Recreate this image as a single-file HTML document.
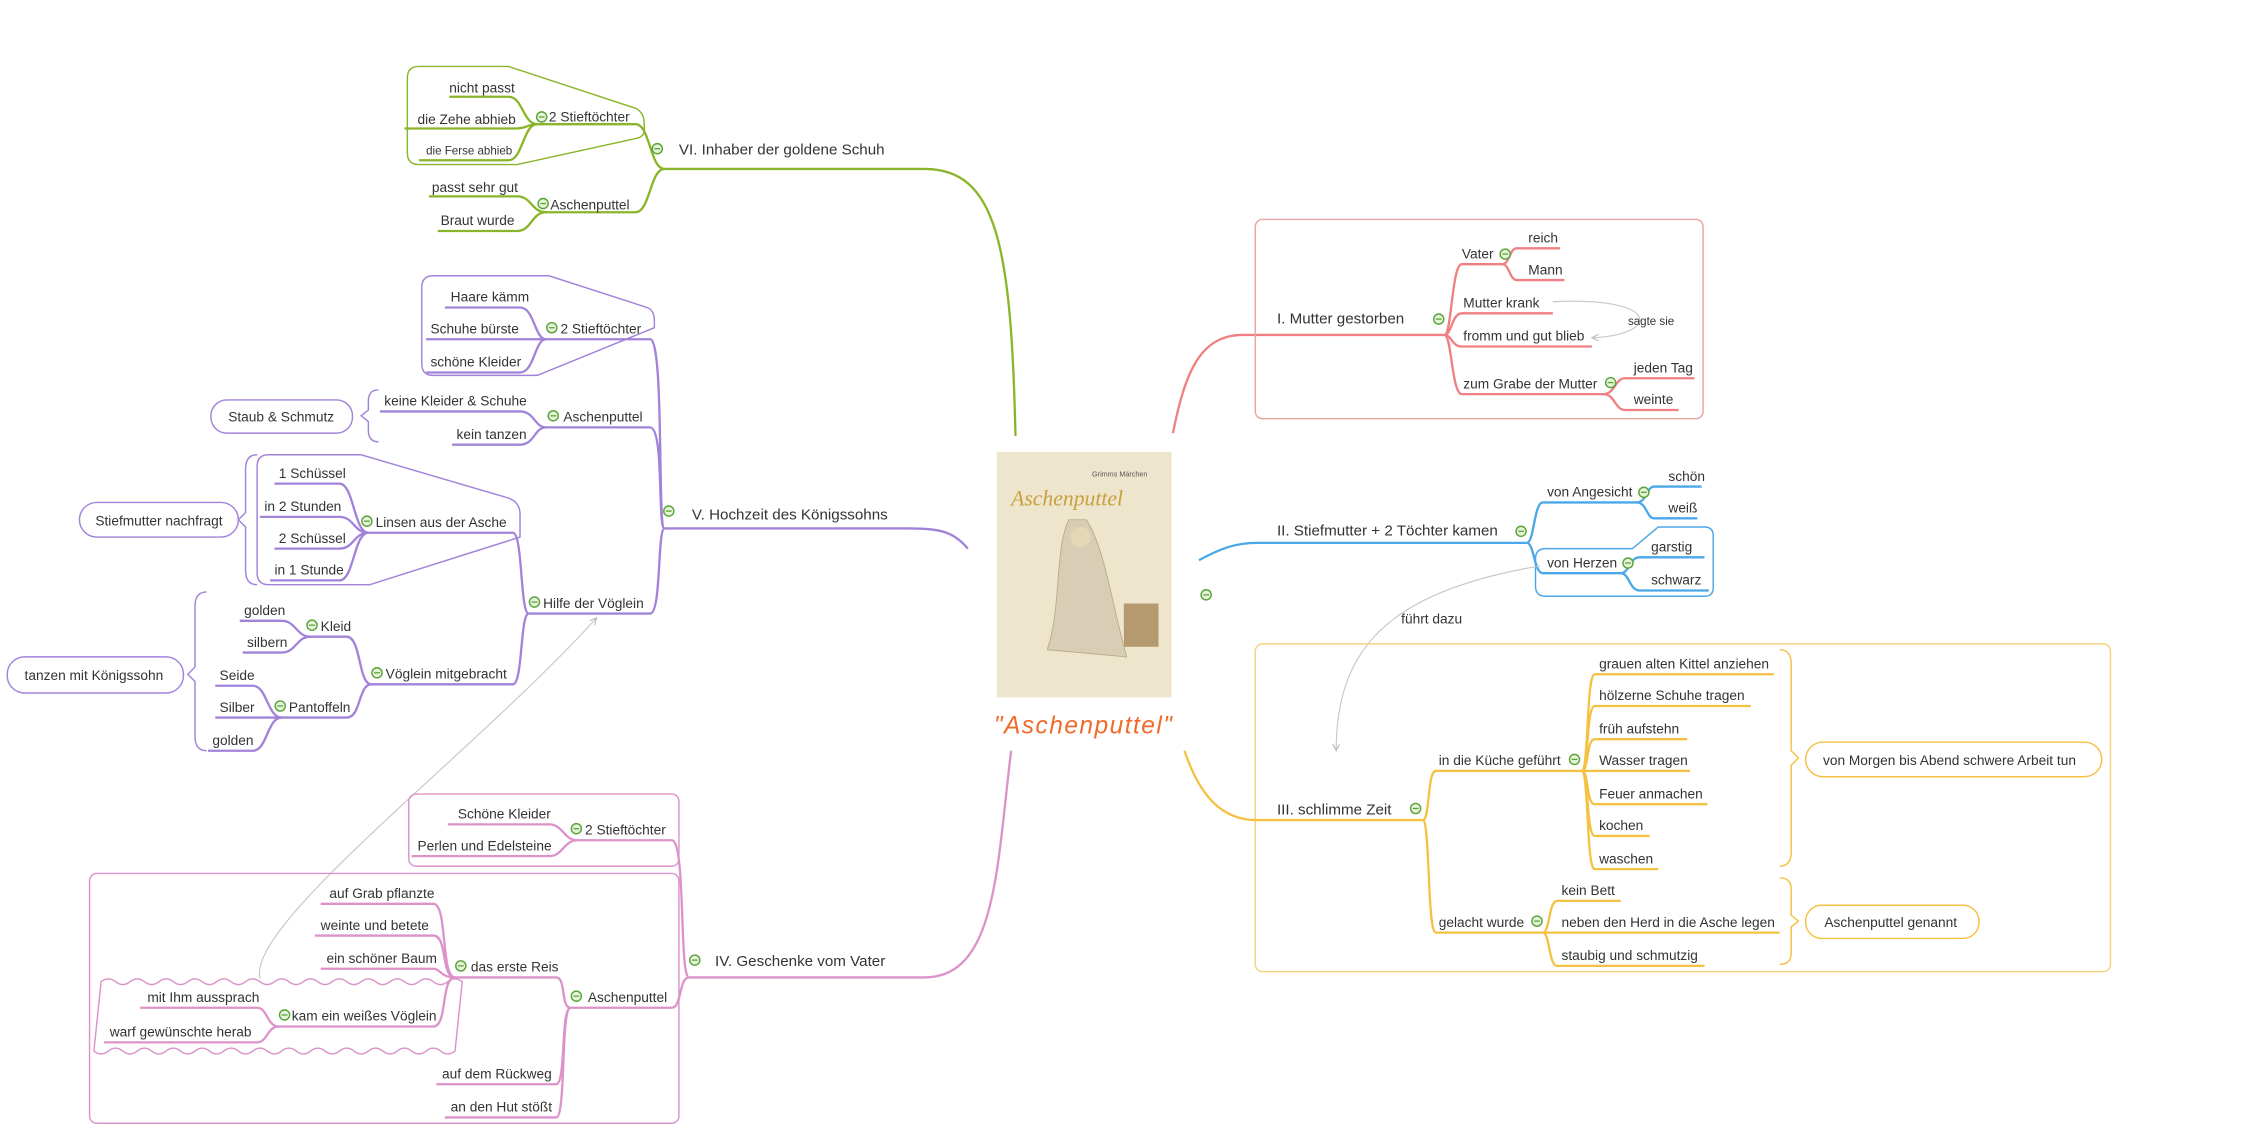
<!DOCTYPE html>
<html><head><meta charset="utf-8"><style>
html,body{margin:0;padding:0;background:#fff;width:2265px;height:1142px;overflow:hidden}
svg{display:block}
text{font-family:"Liberation Sans",sans-serif;font-size:9.5px;fill:#333}
.g{stroke:#8ab52a}.p{stroke:#a283d9}.k{stroke:#dc93c9}.r{stroke:#ef7f80}.b{stroke:#4aa8e8}.y{stroke:#f5c143}
path,line{fill:none;stroke-width:1.6}
.bx{fill:none;stroke-width:1}
.c{fill:#e6f2da;stroke:#5aa43a;stroke-width:1}
</style></head><body>
<svg width="2265" height="1142" viewBox="0 0 1568 791" preserveAspectRatio="none">
<defs><marker id="ar" markerWidth="8" markerHeight="8" refX="6" refY="3" orient="auto"><path d="M0,0 L6,3 L0,6" style="fill:none;stroke:#bbb;stroke-width:1"/></marker>
<g id="m"><circle class="c" cx="0" cy="0" r="3.5"/><line x1="-2" y1="0" x2="2" y2="0" style="stroke:#5aa43a;stroke-width:0.9"/></g></defs>

<!-- center -->
<rect x="690" y="313" width="121" height="170" fill="#eee5cd"/>
<text x="756" y="330" style="font-size:5px;fill:#555">Grimms Märchen</text>
<text x="700" y="350" style="font-family:'Liberation Serif',serif;font-style:italic;font-size:15px;fill:#c8a040">Aschenputtel</text>
<path d="M740 360 C730 380 735 420 725 450 L780 455 C770 420 765 380 752 360 Z" style="fill:#d8ceb6;stroke:#b8a888;stroke-width:0.6"/>
<circle cx="748" cy="372" r="7" fill="#e5d6b5"/>
<rect x="778" y="418" width="24" height="30" fill="#b59a70"/>
<text x="688" y="508" style="font-size:17px;font-style:italic;fill:#f06a2a;letter-spacing:1px">"Aschenputtel"</text>

<!-- ===== VI green ===== -->
<path class="g" d="M703 302 C700 170 690 117 640 117 L460 117"/>
<path class="g" d="M460 117 C450 117 450 86 440 86 L372 86 C362 86 362 67 352 67 L311 67"/>
<path class="g" d="M372 86 C365 86 365 89 357 89 L280 89"/>
<path class="g" d="M372 86 C362 86 362 111 352 111 L290 111"/>
<path class="g" d="M460 117 C450 117 450 147 440 147 L378 147 C368 147 368 136 358 136 L297 136"/>
<path class="g" d="M378 147 C368 147 368 160 358 160 L303 160"/>
<path class="g bx" d="M290 46 L352 46 L440 75 Q446 78 446 86 L446 90 Q446 95 440 96 L358 114 L290 114 Q282 114 282 106 L282 54 Q282 46 290 46 Z"/>
<text x="470" y="107" style="font-size:10.5px">VI.  Inhaber der goldene Schuh</text>
<use href="#m" x="455" y="103"/>
<text x="380" y="84">2 Stieftöchter</text><use href="#m" x="375" y="81"/>
<text x="311" y="64">nicht passt</text>
<text x="289" y="86">die Zehe abhieb</text>
<text x="295" y="107" style="font-size:8px">die Ferse abhieb</text>
<text x="381" y="145">Aschenputtel</text><use href="#m" x="376" y="141"/>
<text x="299" y="133">passt sehr gut</text>
<text x="305" y="156">Braut wurde</text>

<!-- ===== V purple ===== -->
<path class="p" d="M670 380 C660 368 650 366 630 366 L460 366"/>
<path class="p" d="M460 366 C455 366 460 235 450 235 L378 235 C370 235 370 213 360 213 L308 213"/>
<path class="p" d="M378 235 C370 235 370 235 360 235 L295 235"/>
<path class="p" d="M378 235 C370 235 370 258 360 258 L295 258"/>
<path class="p" d="M460 366 C455 366 460 296 450 296 L378 296 C370 296 370 285 360 285 L263 285"/>
<path class="p" d="M378 296 C370 296 370 308 360 308 L313 308"/>
<path class="p" d="M460 366 C455 366 458 425 450 425 L366 425"/>
<path class="p" d="M366 425 C360 425 362 369 355 369 L255 369 C245 369 245 335 235 335 L190 335"/>
<path class="p" d="M255 369 C245 369 245 358 235 358 L180 358"/>
<path class="p" d="M255 369 C245 369 245 380 235 380 L190 380"/>
<path class="p" d="M255 369 C245 369 245 402 235 402 L187 402"/>
<path class="p" d="M366 425 C360 425 362 474 355 474 L257 474 C248 474 250 441 240 441 L215 441 C205 441 205 430 195 430 L166 430"/>
<path class="p" d="M215 441 C205 441 205 452 195 452 L168 452"/>
<path class="p" d="M257 474 C248 474 250 497 240 497 L195 497 C185 497 185 475 175 475 L149 475"/>
<path class="p" d="M195 497 C185 497 185 497 175 497 L149 497"/>
<path class="p" d="M195 497 C185 497 185 520 175 520 L144 520"/>
<path class="p bx" d="M300 191 L380 191 L448 213 Q453 215 453 222 L453 227 L372 260 L300 260 Q292 260 292 252 L292 199 Q292 191 300 191 Z"/>
<path class="p bx" d="M186 315 L250 315 L352 345 Q360 348 360 356 L360 372 L256 405 L186 405 Q178 405 178 397 L178 323 Q178 315 186 315 Z"/>
<path class="p bx" d="M262 270 Q255 270 255 278 L255 284 L250 288 L255 292 L255 298 Q255 306 262 306"/>
<rect class="p bx" x="146" y="277" width="98" height="23" rx="11"/>
<path class="p bx" d="M178 315 Q170 315 170 325 L170 355 L165 360 L170 365 L170 395 Q170 405 178 405"/>
<rect class="p bx" x="55" y="348" width="110" height="24" rx="12"/>
<path class="p bx" d="M143 410 Q135 410 135 420 L135 462 L130 467 L135 472 L135 510 Q135 520 143 520"/>
<rect class="p bx" x="5" y="455" width="122" height="25" rx="12"/>
<text x="479" y="360" style="font-size:10.5px">V.  Hochzeit des Königssohns</text><use href="#m" x="463" y="354"/>
<text x="388" y="231">2 Stieftöchter</text><use href="#m" x="382" y="227"/>
<text x="312" y="209">Haare kämm</text>
<text x="298" y="231">Schuhe bürste</text>
<text x="298" y="254">schöne  Kleider</text>
<text x="390" y="292">Aschenputtel</text><use href="#m" x="383" y="288"/>
<text x="266" y="281">keine Kleider &amp; Schuhe</text>
<text x="316" y="304">kein tanzen</text>
<text x="158" y="292">Staub &amp; Schmutz</text>
<text x="376" y="421">Hilfe der Vöglein</text><use href="#m" x="370" y="417"/>
<text x="260" y="365">Linsen aus der Asche</text><use href="#m" x="254" y="361"/>
<text x="193" y="331">1 Schüssel</text>
<text x="183" y="354">in 2 Stunden</text>
<text x="193" y="376">2 Schüssel</text>
<text x="190" y="398">in 1 Stunde</text>
<text x="66" y="364">Stiefmutter nachfragt</text>
<text x="267" y="470">Vöglein mitgebracht</text><use href="#m" x="261" y="466"/>
<text x="222" y="437">Kleid</text><use href="#m" x="216" y="433"/>
<text x="169" y="426">golden</text>
<text x="171" y="448">silbern</text>
<text x="200" y="493">Pantoffeln</text><use href="#m" x="194" y="489"/>
<text x="152" y="471">Seide</text>
<text x="152" y="493">Silber</text>
<text x="147" y="516">golden</text>
<text x="17" y="471">tanzen mit Königssohn</text>
<path d="M180 678 C170 640 330 520 413 428" style="stroke:#c8c8c8;stroke-width:0.8" marker-end="url(#ar)"/>

<!-- ===== IV pink ===== -->
<path class="k" d="M700 520 C690 600 690 677 640 677 L477 677"/>
<path class="k" d="M477 677 C470 677 475 582 465 582 L400 582 C390 582 390 571 380 571 L310 571"/>
<path class="k" d="M400 582 C390 582 390 593 380 593 L285 593"/>
<path class="k" d="M477 677 C470 677 472 698 465 698 L395 698"/>
<path class="k" d="M395 698 C388 698 392 677 385 677 L315 677 C305 677 310 626 300 626 L222 626"/>
<path class="k" d="M315 677 C305 677 310 648 300 648 L218 648"/>
<path class="k" d="M315 677 C305 677 305 671 300 671 L222 671"/>
<path class="k" d="M315 677 C305 677 310 711 300 711 L193 711 C185 711 185 698 178 698 L97 698"/>
<path class="k" d="M193 711 C185 711 185 722 178 722 L72 722"/>
<path class="k" d="M395 698 C388 698 392 751 385 751 L302 751"/>
<path class="k" d="M395 698 C388 698 392 774 385 774 L308 774"/>
<rect class="k bx" x="283" y="550" width="187" height="50" rx="5"/>
<rect class="k bx" x="62" y="605" width="408" height="173" rx="5"/>
<path class="k bx" d="M70 680 q5 -4 10 0 t10 0 t10 0 t10 0 t10 0 t10 0 t10 0 t10 0 t10 0 t10 0 t10 0 t10 0 t10 0 t10 0 t10 0 t10 0 t10 0 t10 0 t10 0 t10 0 t10 0 t10 0 t10 0 t10 0 q5 -4 10 0 L315 728 q-5 4 -10 0 t-10 0 t-10 0 t-10 0 t-10 0 t-10 0 t-10 0 t-10 0 t-10 0 t-10 0 t-10 0 t-10 0 t-10 0 t-10 0 t-10 0 t-10 0 t-10 0 t-10 0 t-10 0 t-10 0 t-10 0 t-10 0 t-10 0 t-10 0 q-5 4 -10 0 Z"/>
<text x="495" y="669" style="font-size:10.5px">IV.  Geschenke vom Vater</text><use href="#m" x="481" y="665"/>
<text x="405" y="578">2 Stieftöchter</text><use href="#m" x="399" y="574"/>
<text x="317" y="567">Schöne Kleider</text>
<text x="289" y="589">Perlen und Edelsteine</text>
<text x="407" y="694">Aschenputtel</text><use href="#m" x="399" y="690"/>
<text x="326" y="673">das erste Reis</text><use href="#m" x="319" y="669"/>
<text x="228" y="622">auf Grab pflanzte</text>
<text x="222" y="644">weinte und betete</text>
<text x="226" y="667">ein schöner Baum</text>
<text x="202" y="707">kam ein weißes Vöglein</text><use href="#m" x="197" y="703"/>
<text x="102" y="694">mit Ihm aussprach</text>
<text x="76" y="718">warf  gewünschte herab</text>
<text x="306" y="747">auf dem Rückweg</text>
<text x="312" y="770">an den Hut stößt</text>

<!-- ===== I red ===== -->
<path class="r" d="M812 300 C820 260 830 232 860 232 L1000 232"/>
<path class="r" d="M1000 232 C1005 232 1005 183 1012 183 L1040 183 C1045 183 1045 172 1050 172 L1080 172"/>
<path class="r" d="M1040 183 C1045 183 1045 194 1050 194 L1083 194"/>
<path class="r" d="M1000 232 C1005 232 1005 217 1012 217 L1075 217"/>
<path class="r" d="M1000 232 C1005 232 1005 240 1012 240 L1102 240"/>
<path class="r" d="M1000 232 C1005 232 1005 273 1012 273 L1110 273 C1118 273 1118 262 1125 262 L1173 262"/>
<path class="r" d="M1110 273 C1118 273 1118 284 1125 284 L1162 284"/>
<rect class="r bx" x="869" y="152" width="310" height="138" rx="5" style="stroke:#eba4a4"/>
<path d="M1075 209 C1150 205 1150 232 1102 234" style="stroke:#c8c8c8;stroke-width:0.8" marker-end="url(#ar)"/>
<text x="884" y="224" style="font-size:10.5px">I.  Mutter gestorben</text><use href="#m" x="996" y="221"/>
<text x="1012" y="179">Vater</text><use href="#m" x="1042" y="176"/>
<text x="1058" y="168">reich</text>
<text x="1058" y="190">Mann</text>
<text x="1013" y="213">Mutter krank</text>
<text x="1013" y="236">fromm und gut blieb</text>
<text x="1013" y="269">zum Grabe der Mutter</text><use href="#m" x="1115" y="265"/>
<text x="1131" y="258">jeden Tag</text>
<text x="1131" y="280">weinte</text>
<text x="1127" y="225" style="font-size:8px">sagte sie</text>

<!-- ===== II blue ===== -->
<path class="b" d="M830 388 C845 380 855 376 870 376 L1057 376"/>
<path class="b" d="M1057 376 C1062 376 1062 348 1068 348 L1133 348 C1140 348 1140 337 1145 337 L1178 337"/>
<path class="b" d="M1133 348 C1140 348 1140 359 1145 359 L1175 359"/>
<path class="b" d="M1057 376 C1062 376 1062 397 1068 397 L1122 397 C1128 397 1128 386 1135 386 L1180 386"/>
<path class="b" d="M1122 397 C1128 397 1128 409 1135 409 L1183 409"/>
<path class="b bx" d="M1070 380 L1130 380 L1148 365 L1180 365 Q1186 365 1186 371 L1186 407 Q1186 413 1180 413 L1070 413 Q1063 413 1063 406 L1063 387 Q1063 380 1070 380 Z"/>
<text x="884" y="371" style="font-size:10.5px">II.  Stiefmutter + 2 Töchter kamen</text><use href="#m" x="1053" y="368"/>
<text x="1071" y="344">von Angesicht</text><use href="#m" x="1138" y="341"/>
<text x="1155" y="333">schön</text>
<text x="1155" y="355">weiß</text>
<text x="1071" y="393">von Herzen</text><use href="#m" x="1127" y="390"/>
<text x="1143" y="382">garstig</text>
<text x="1143" y="405">schwarz</text>
<use href="#m" x="835" y="412"/>
<text x="970" y="432">führt dazu</text>
<path d="M1066 392 C960 410 925 450 925 520" style="stroke:#c8c8c8;stroke-width:0.8" marker-end="url(#ar)"/>

<!-- ===== III yellow ===== -->
<rect class="y bx" x="869" y="446" width="592" height="227" rx="5" style="stroke:#f6d27e"/>
<path class="y" d="M820 520 C830 550 845 568 870 568 L985 568"/>
<path class="y" d="M985 568 C990 568 988 534 994 534 L1095 534"/>
<path class="y" d="M1095 534 C1100 534 1098 467 1104 467 L1228 467"/>
<path class="y" d="M1095 534 C1100 534 1098 489 1104 489 L1212 489"/>
<path class="y" d="M1095 534 C1100 534 1098 512 1104 512 L1168 512"/>
<path class="y" d="M1095 534 C1100 534 1100 534 1104 534 L1170 534"/>
<path class="y" d="M1095 534 C1100 534 1098 557 1104 557 L1182 557"/>
<path class="y" d="M1095 534 C1100 534 1098 579 1104 579 L1142 579"/>
<path class="y" d="M1095 534 C1100 534 1098 602 1104 602 L1148 602"/>
<path class="y" d="M985 568 C990 568 988 646 994 646 L1068 646"/>
<path class="y" d="M1068 646 C1073 646 1072 624 1078 624 L1122 624"/>
<path class="y" d="M1068 646 C1073 646 1073 646 1078 646 L1232 646"/>
<path class="y" d="M1068 646 C1073 646 1072 669 1078 669 L1180 669"/>
<path class="y bx" d="M1232 450 Q1240 450 1240 460 L1240 520 L1245 525 L1240 530 L1240 590 Q1240 600 1232 600"/>
<rect class="y bx" x="1250" y="514" width="205" height="24" rx="12"/>
<path class="y bx" d="M1232 608 Q1240 608 1240 616 L1240 634 L1245 638 L1240 642 L1240 660 Q1240 668 1232 668"/>
<rect class="y bx" x="1250" y="627" width="120" height="23" rx="11"/>
<text x="884" y="564" style="font-size:10.5px">III.  schlimme Zeit</text><use href="#m" x="980" y="560"/>
<text x="996" y="530">in die Küche geführt</text><use href="#m" x="1090" y="526"/>
<text x="1107" y="463">grauen alten Kittel anziehen</text>
<text x="1107" y="485">hölzerne Schuhe tragen</text>
<text x="1107" y="508">früh aufstehn</text>
<text x="1107" y="530">Wasser tragen</text>
<text x="1107" y="553">Feuer anmachen</text>
<text x="1107" y="575">kochen</text>
<text x="1107" y="598">waschen</text>
<text x="1262" y="530">von Morgen bis Abend schwere Arbeit tun</text>
<text x="996" y="642">gelacht wurde</text><use href="#m" x="1064" y="638"/>
<text x="1081" y="620">kein Bett</text>
<text x="1081" y="642">neben den Herd in die Asche legen</text>
<text x="1081" y="665">staubig und schmutzig</text>
<text x="1263" y="642">Aschenputtel genannt</text>
</svg>
</body></html>
